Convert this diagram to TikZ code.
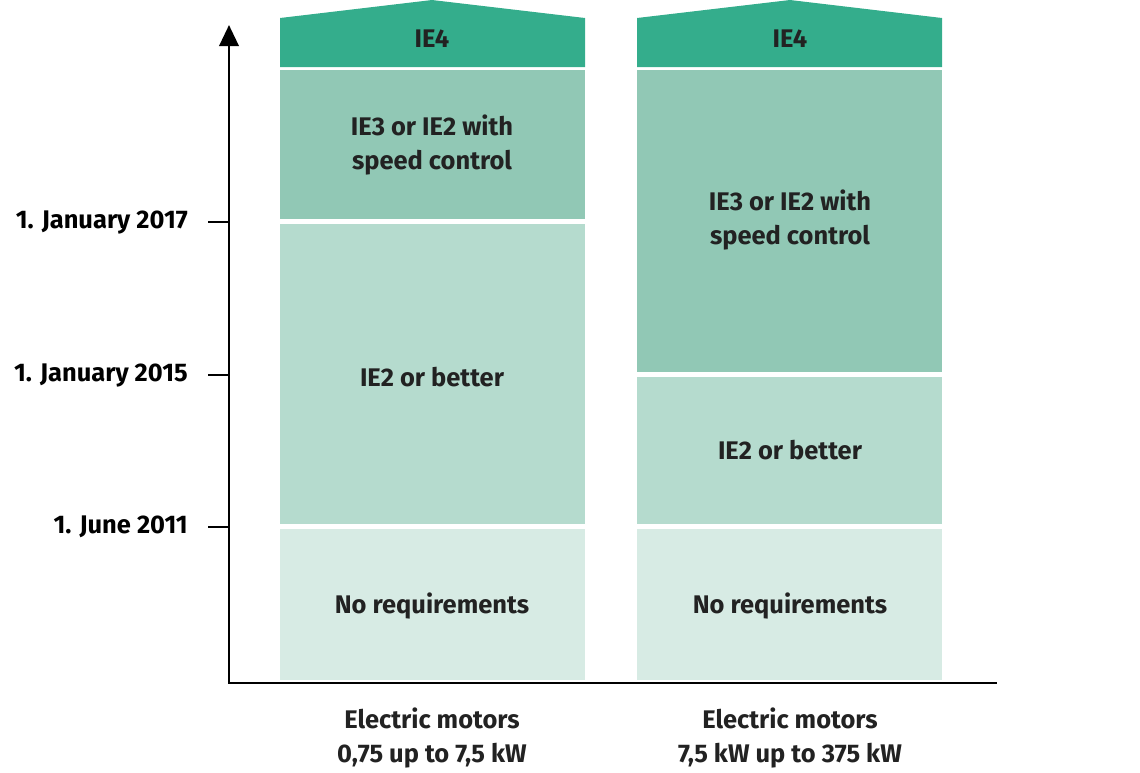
\documentclass[tikz,border=0pt]{standalone}
\usepackage{fontspec}
\setmainfont{Fira Sans}
\usetikzlibrary{arrows.meta}
\definecolor{ieA}{HTML}{34AD8C}
\definecolor{ieB}{HTML}{91C8B5}
\definecolor{ieC}{HTML}{B5DBCE}
\definecolor{ieD}{HTML}{D7EBE4}
\definecolor{ink}{HTML}{222222}
\tikzset{
  lbl/.style={font=\bfseries\fontsize{14.5}{19}\selectfont, text=ink, align=center},
  datelbl/.style={font=\bfseries\fontsize{14.5}{19}\selectfont, anchor=east, text=black}
}
\begin{document}
\begin{tikzpicture}[x=0.02cm,y=-0.02cm]
	\useasboundingbox (0,0) rectangle (1140,772);
	% column 1
	\fill[ieA] (280,67) -- (280,18) -- (432,0) -- (585,18) -- (585,67) -- cycle;
	\fill[ieB] (280,70) rectangle (585,219);
	\fill[ieC] (280,224) rectangle (585,524);
	\fill[ieD] (280,529) rectangle (585,680);
	% column 2
	\fill[ieA] (637,67) -- (637,18) -- (790,0) -- (942,18) -- (942,67) -- cycle;
	\fill[ieB] (637,70) rectangle (942,372);
	\fill[ieC] (637,377) rectangle (942,524);
	\fill[ieD] (637,529) rectangle (942,680);
	% labels
	\node[lbl] (a4) at (432,39) {IE4};
	\node[lbl] (a3) at (432,145) {IE3 or IE2 with\\speed control};
	\node[lbl] (a2) at (432,377) {IE2 or better};
	\node[lbl] (a1) at (432,606) {No requirements};
	\node[lbl] (b4) at (790,39) {IE4};
	\node[lbl] (b3) at (790,220) {IE3 or IE2 with\\speed control};
	\node[lbl] (b2) at (790,450) {IE2 or better};
	\node[lbl] (b1) at (790,606) {No requirements};
	% axes
	\draw[line width=1.6pt,-{Triangle[length=12pt,width=11pt]}] (229,683) -- (229,25);
	\draw[line width=1.6pt] (228,683) -- (997,683);
	\foreach \y/\t in {222/{1. January 2017},375/{1. January 2015},527/{1. June 2011}}
		\draw[line width=1.6pt] (208,\y) -- (229,\y) node[datelbl] at (195,\y) {\t};
	\node[lbl] (c1) at (432,738) {Electric motors\\0,75 up to 7,5 kW};
	\node[lbl] (c2) at (790,738) {Electric motors\\7,5 kW up to 375 kW};
\end{tikzpicture}
\end{document}
